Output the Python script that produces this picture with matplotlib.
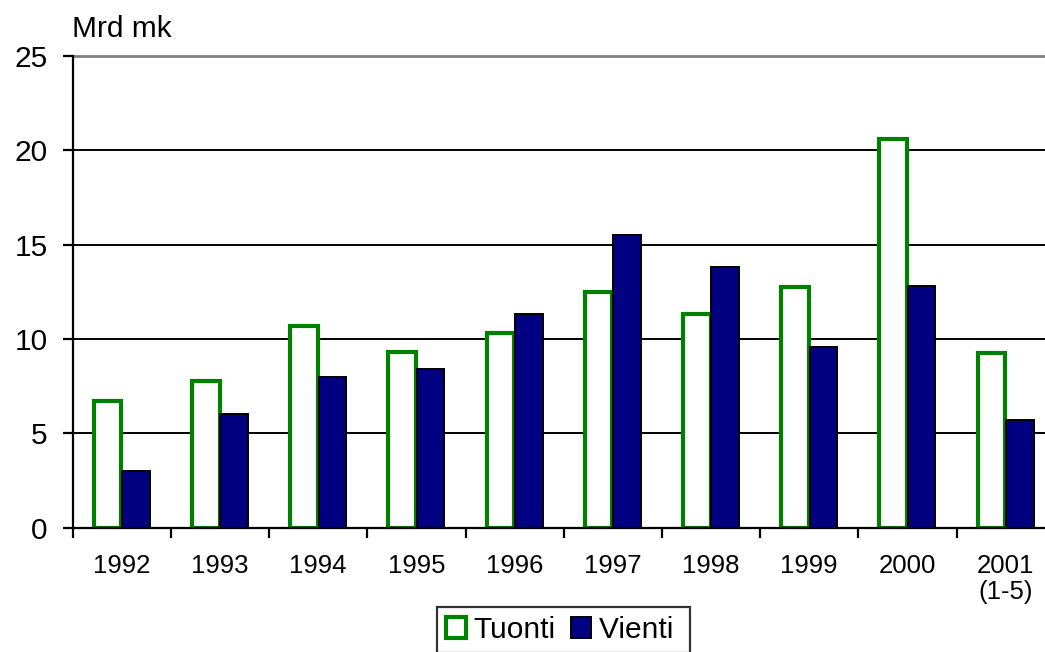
import matplotlib.pyplot as plt
import numpy as np
from matplotlib.patches import Patch

plt.rcParams['font.family'] = ['Liberation Sans', 'DejaVu Sans']

years = ["1992", "1993", "1994", "1995", "1996", "1997", "1998", "1999", "2000", "2001\n(1-5)"]
tuonti = [6.7, 7.8, 10.7, 9.3, 10.3, 12.5, 11.3, 12.75, 20.6, 9.25]
vienti = [3.0, 6.0, 8.0, 8.4, 11.3, 15.5, 13.8, 9.6, 12.8, 5.7]

GREEN = "#008000"
NAVY = "#000080"


def plot_trade():
    fig = plt.figure(figsize=(10.45, 6.52), dpi=100)
    ax = fig.add_axes([72.7 / 1045, 124.3 / 652, 982 / 1045, 471.7 / 652])

    x = np.arange(len(years))
    w = 0.28
    ax.bar(x - 0.145, tuonti, w, facecolor="white", edgecolor=GREEN,
           linewidth=3.0, zorder=3, label="Tuonti")
    ax.bar(x + 0.145, vienti, w, facecolor=NAVY, edgecolor="black",
           linewidth=1.4, zorder=4, label="Vienti")

    ax.set_xlim(-0.5, len(years) - 0.5)
    ax.set_ylim(0, 25)
    ax.set_yticks([0, 5, 10, 15, 20, 25])

    # gridlines, top one grey
    for y in [5, 10, 15, 20]:
        ax.axhline(y, color="black", linewidth=1.4, zorder=1)
    ax.axhline(25, color="#808080", linewidth=2.0, zorder=1, clip_on=False)

    for s in ["top", "right"]:
        ax.spines[s].set_visible(False)
    for s in ["left", "bottom"]:
        ax.spines[s].set_linewidth(1.6)
        ax.spines[s].set_zorder(5)

    # category ticks at the boundaries, labels in the middle
    ax.set_xticks(np.arange(len(years) + 1) - 0.5)
    ax.set_xticklabels([])
    ax.set_xticks(x, minor=True)
    ax.set_xticklabels(years, minor=True, fontsize=18.5, linespacing=1.1)
    ax.tick_params(axis="x", which="major", direction="out", length=7, width=1.6)
    ax.tick_params(axis="x", which="minor", length=0, pad=19)
    ax.tick_params(axis="y", direction="out", length=7, width=1.6, labelsize=21.5, pad=11)

    fig.text(72 / 1045, 1 - 36.7 / 652, "Mrd mk", fontsize=21.5, va="baseline", ha="left")

    handles = [Patch(facecolor="white", edgecolor=GREEN, linewidth=3.0),
               Patch(facecolor=NAVY, edgecolor="black", linewidth=1.4)]
    leg = fig.legend(handles, ["Tuonti", "Vienti "], loc="upper left",
                     bbox_to_anchor=(437 / 1045, 1 - 607 / 652), ncol=2,
                     fontsize=21.5, frameon=True, fancybox=False,
                     handlelength=0.68, handleheight=0.68, handletextpad=0.25,
                     columnspacing=0.5, borderpad=0.3, borderaxespad=0)
    leg.get_frame().set_edgecolor("black")
    leg.get_frame().set_linewidth(1.6)

    fig.savefig("out.png", dpi=100)


if __name__ == "__main__":
    plot_trade()
